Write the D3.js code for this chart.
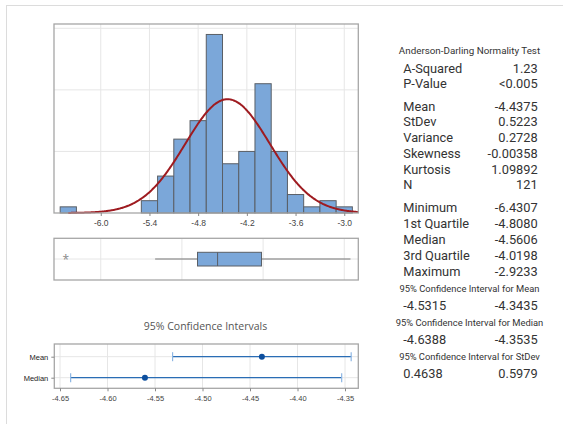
<!DOCTYPE html>
<html><head><meta charset="utf-8">
<script src="https://cdn.jsdelivr.net/npm/d3@7"></script>
<style>body{margin:0;background:#fff;}svg{display:block;font-family:"Open Sans",sans-serif;}</style>
</head><body>
<script>
// ---- data ----
const binCenters = [-6.4,-6.2,-6.0,-5.8,-5.6,-5.4,-5.2,-5.0,-4.8,-4.6,-4.4,-4.2,-4.0,-3.8,-3.6,-3.4,-3.2,-3.0];
const binCounts  = [1,0,0,0,0,2,6,12,15,29,8,10,21,10,3,1,2,1];
const binWidth = 0.2;
const histTicks = [-6.0,-5.4,-4.8,-4.2,-3.6,-3.0];
const boxGrid = [-6,-5,-4,-3];
const fitMean = -4.4375, fitSd = 0.5223, nObs = 121;
const boxQ1 = -4.8080, boxMedian = -4.5606, boxQ3 = -4.0198;
const whiskerLow = -5.33, whiskerHigh = -2.9233;
const outliers = [-6.4307];
const ciCategories = ["Mean","Median"];
const ciEstimates = [-4.4375,-4.5606];
const ciLower = [-4.5315,-4.6388];
const ciUpper = [-4.3435,-4.3535];
const ciTicks = [-4.65,-4.60,-4.55,-4.50,-4.45,-4.40,-4.35];
const statLabels = ["A-Squared","P-Value","Mean","StDev","Variance","Skewness","Kurtosis","N","Minimum","1st Quartile","Median","3rd Quartile","Maximum"];
const statValues = ["1.23","<0.005","-4.4375","0.5223","0.2728","-0.00358","1.09892","121","-6.4307","-4.8080","-4.5606","-4.0198","-2.9233"];
const ciHeaders = ["95% Confidence Interval for Mean","95% Confidence Interval for Median","95% Confidence Interval for StDev"];
const ciLowTexts = ["-4.5315","-4.6388","0.4638"];
const ciHighTexts = ["-4.3435","-4.3535","0.5979"];

const W = 563, H = 424;
const svg = d3.select("body").append("svg").attr("width", W).attr("height", H);

// outer frame
svg.append("rect").attr("x",6.5).attr("y",5.5).attr("width",W+20).attr("height",H+20)
  .attr("fill","none").attr("stroke","#dcdcdc").attr("stroke-width",1);

const gridCol = "#e6e6e6", frameCol = "#a6a6a6";

// ---- histogram ----
const hx = d3.scaleLinear().domain([-6.576,-2.827]).range([54,358.3]);
const hy = d3.scaleLinear().domain([0,30.7]).range([213,24]);
const hg = svg.append("g");
hg.selectAll(".vg").data(histTicks).join("line")
  .attr("x1",d=>hx(d)).attr("x2",d=>hx(d)).attr("y1",hy(0)).attr("y2",hy(30.7))
  .attr("stroke",gridCol).attr("stroke-width",1);
hg.selectAll(".hg").data([10,20,30]).join("line")
  .attr("x1",hx.range()[0]).attr("x2",hx.range()[1]).attr("y1",d=>hy(d)).attr("y2",d=>hy(d))
  .attr("stroke",gridCol).attr("stroke-width",1);
hg.selectAll("rect.bar").data(binCenters.map((c,i)=>({c,n:binCounts[i]})).filter(d=>d.n>0)).join("rect")
  .attr("class","bar")
  .attr("x",d=>hx(d.c-binWidth/2)).attr("width",d=>hx(d.c+binWidth/2)-hx(d.c-binWidth/2))
  .attr("y",d=>hy(d.n)).attr("height",d=>hy(0)-hy(d.n))
  .attr("fill","#7ba7d9").attr("stroke","#5a5f66").attr("stroke-width",1);
// fitted normal curve
const scale = nObs*binWidth;
const curveX = d3.range(-6.4, -2.827, 0.01).concat([-2.827]);
const line = d3.line().x(d=>hx(d)).y(d=>hy(scale*Math.exp(-0.5*((d-fitMean)/fitSd)**2)/(fitSd*Math.sqrt(2*Math.PI)))).curve(d3.curveBasis);
hg.append("path").datum(curveX).attr("d",line).attr("fill","none").attr("stroke","#9e1b20").attr("stroke-width",2);
hg.append("rect").attr("x",54).attr("y",24).attr("width",358.3-54).attr("height",213-24)
  .attr("fill","none").attr("stroke",frameCol).attr("stroke-width",1.3);
const hAxis = hg.append("g").attr("transform","translate(0,213)")
  .call(d3.axisBottom(hx).tickValues(histTicks).tickFormat(d3.format(".1f")).tickSize(3).tickSizeOuter(0));
hAxis.select(".domain").remove();
hAxis.selectAll("line").attr("stroke","#888");
hAxis.selectAll("text").attr("font-size",8.5).attr("fill","#444").attr("dy","0.85em").text(d=>d3.format(".1f")(d).replace("−","-"));

// ---- boxplot ----
const bg = svg.append("g");
const bTop = 238.3, bBot = 280, bMid = 259;
bg.selectAll("line.vg").data(boxGrid).join("line").attr("class","vg")
  .attr("x1",d=>hx(d)).attr("x2",d=>hx(d)).attr("y1",bTop).attr("y2",bBot).attr("stroke",gridCol);
bg.append("line").attr("x1",54).attr("x2",358.3).attr("y1",bMid).attr("y2",bMid).attr("stroke",gridCol);
bg.append("line").attr("x1",hx(whiskerLow)).attr("x2",hx(boxQ1)).attr("y1",bMid).attr("y2",bMid).attr("stroke","#777").attr("stroke-width",1);
bg.append("line").attr("x1",hx(boxQ3)).attr("x2",hx(whiskerHigh)).attr("y1",bMid).attr("y2",bMid).attr("stroke","#777").attr("stroke-width",1);
bg.append("rect").attr("x",hx(boxQ1)).attr("width",hx(boxQ3)-hx(boxQ1)).attr("y",252.3).attr("height",13.7)
  .attr("fill","#7ba7d9").attr("stroke","#5a5f66").attr("stroke-width",1);
bg.append("line").attr("x1",hx(boxMedian)).attr("x2",hx(boxMedian)).attr("y1",252.3).attr("y2",266).attr("stroke","#5a5f66").attr("stroke-width",1);
bg.selectAll("text.out").data(outliers).join("text").attr("class","out")
  .attr("x",d=>hx(d)).attr("y",bMid+5).attr("text-anchor","middle").attr("font-size",12).attr("fill","#888").text("*");
bg.append("rect").attr("x",54).attr("y",bTop).attr("width",358.3-54).attr("height",bBot-bTop)
  .attr("fill","none").attr("stroke",frameCol).attr("stroke-width",1.3);

// ---- CI panel ----
const cg = svg.append("g");
const cx = d3.scaleLinear().domain([-4.656,-4.336]).range([54.3,358.3]);
const cy = d3.scalePoint().domain(ciCategories).range([356.7,377.7]);
const cTop = 344, cBot = 388.3;
svg.append("text").attr("x",205.5).attr("y",329.5).attr("text-anchor","middle").attr("font-size",10.5).attr("fill","#555").text("95% Confidence Intervals");
cg.selectAll("line.vg").data(ciTicks).join("line").attr("class","vg")
  .attr("x1",d=>cx(d)).attr("x2",d=>cx(d)).attr("y1",cTop).attr("y2",cBot).attr("stroke",gridCol);
cg.selectAll("line.hg").data(ciCategories).join("line").attr("class","hg")
  .attr("x1",54.3).attr("x2",358.3).attr("y1",d=>cy(d)).attr("y2",d=>cy(d)).attr("stroke",gridCol);
const ciRows = ciCategories.map((c,i)=>({c,est:ciEstimates[i],lo:ciLower[i],hi:ciUpper[i]}));
cg.selectAll("line.ci").data(ciRows).join("line").attr("class","ci")
  .attr("x1",d=>cx(d.lo)).attr("x2",d=>cx(d.hi)).attr("y1",d=>cy(d.c)).attr("y2",d=>cy(d.c))
  .attr("stroke","#2a6db5").attr("stroke-width",1.2);
ciRows.forEach(d=>{
  [d.lo,d.hi].forEach(v=>{
    cg.append("line").attr("x1",cx(v)).attr("x2",cx(v)).attr("y1",cy(d.c)-4.5).attr("y2",cy(d.c)+4.5)
      .attr("stroke","#8db6e3").attr("stroke-width",1.2);
  });
});
cg.selectAll("circle.est").data(ciRows).join("circle").attr("class","est")
  .attr("cx",d=>cx(d.est)).attr("cy",d=>cy(d.c)).attr("r",3).attr("fill","#0d4f9e");
cg.append("rect").attr("x",54.3).attr("y",cTop).attr("width",358.3-54.3).attr("height",cBot-cTop)
  .attr("fill","none").attr("stroke",frameCol).attr("stroke-width",1.3);
const cAxis = cg.append("g").attr("transform",`translate(0,${cBot})`)
  .call(d3.axisBottom(cx).tickValues(ciTicks).tickFormat(d3.format(".2f")).tickSize(3).tickSizeOuter(0));
cAxis.select(".domain").remove();
cAxis.selectAll("line").attr("stroke","#888");
cAxis.selectAll("text").attr("font-size",7.5).attr("fill","#444").attr("dy","0.85em").text(d=>d3.format(".2f")(d).replace("−","-"));
const cyAxis = cg.append("g").attr("transform","translate(54.3,0)")
  .call(d3.axisLeft(cy).tickSize(3).tickSizeOuter(0));
cyAxis.select(".domain").remove();
cyAxis.selectAll("line").attr("stroke","#888");
cyAxis.selectAll("text").attr("font-size",7.5).attr("fill","#222");

// ---- stats text ----
const tg = svg.append("g").attr("fill","#333").attr("font-family","Roboto, sans-serif");
const labX = 403.3, valX = 537.7;
tg.append("text").attr("x",469.5).attr("y",53.7).attr("text-anchor","middle").attr("font-size",9.8).text("Anderson-Darling Normality Test");
const statY = [68.3,83.3,106.7,121.7,137.3,153.3,169.3,185,207.3,223.3,240,256,271.7];
statLabels.forEach((l,i)=>{
  tg.append("text").attr("x",labX).attr("y",statY[i]+4.4).attr("font-size",12.8).text(l);
  tg.append("text").attr("x",valX).attr("y",statY[i]+4.4).attr("font-size",12.8).attr("text-anchor","end").text(statValues[i]);
});
const headY = [288.3,322.7,356.5], valY = [306,340,373.5];
ciHeaders.forEach((h,i)=>{
  tg.append("text").attr("x",469.5).attr("y",headY[i]+3.2).attr("font-size",9.4).attr("text-anchor","middle").text(h);
  tg.append("text").attr("x",labX).attr("y",valY[i]+4.4).attr("font-size",12.8).text(ciLowTexts[i]);
  tg.append("text").attr("x",valX).attr("y",valY[i]+4.4).attr("font-size",12.8).attr("text-anchor","end").text(ciHighTexts[i]);
});
</script>
</body></html>
